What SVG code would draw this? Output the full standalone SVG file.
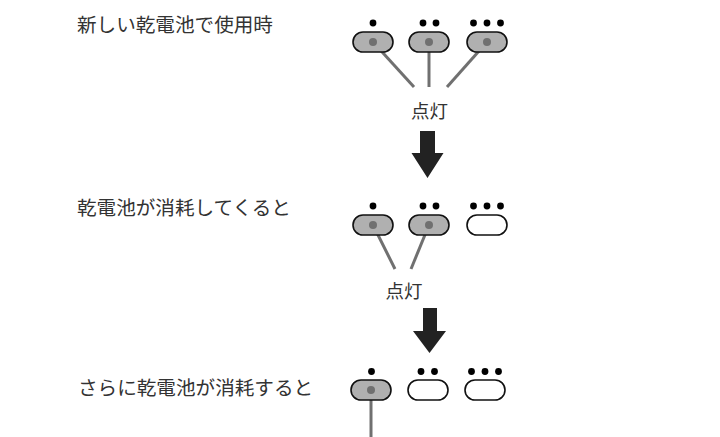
<svg xmlns="http://www.w3.org/2000/svg" width="720" height="437" viewBox="0 0 720 437">
<style>
text{font-family:"Noto Sans CJK JP","Noto Sans",sans-serif;fill:#333;}
.lbl{font-size:19.6px;}
.on{fill:#b0b0b0;stroke:#111;stroke-width:1.6;}
.off{fill:#fff;stroke:#111;stroke-width:1.6;}
.dot{fill:#000;}
.cd{fill:#707070;}
.ln{stroke:#707070;stroke-width:3;fill:none;}
.arr{fill:#222;}
</style>
<rect width="720" height="437" fill="#fff"/>
<g id="label1"><text class="lbl" x="77" y="32">新しい乾電池で使用時</text></g>
<g id="label2"><text class="lbl" x="77" y="215">乾電池が消耗してくると</text></g>
<g id="label3"><text class="lbl" x="78" y="395">さらに乾電池が消耗すると</text></g>

<g id="connectors">
<line class="ln" x1="373" y1="42" x2="414" y2="87"/>
<line class="ln" x1="429" y1="42" x2="429" y2="87"/>
<line class="ln" x1="487" y1="42" x2="447" y2="87"/>
<line class="ln" x1="373" y1="225" x2="395" y2="269"/>
<line class="ln" x1="429" y1="225" x2="411" y2="269"/>
<line class="ln" x1="371" y1="390" x2="371" y2="437"/>
</g>

<g id="row1-led1"><rect class="on" x="353" y="32" width="40" height="20" rx="10"/><circle class="dot" cx="373" cy="23" r="3.4"/><circle class="cd" cx="373" cy="42" r="4"/></g>
<g id="row1-led2"><rect class="on" x="409" y="32" width="40" height="20" rx="10"/><circle class="dot" cx="423" cy="23" r="3.4"/><circle class="dot" cx="436" cy="23" r="3.4"/><circle class="cd" cx="429" cy="42" r="4"/></g>
<g id="row1-led3"><rect class="on" x="467" y="32" width="40" height="20" rx="10"/><circle class="dot" cx="473.5" cy="23" r="3.4"/><circle class="dot" cx="487" cy="23" r="3.4"/><circle class="dot" cx="500.5" cy="23" r="3.4"/><circle class="cd" cx="487" cy="42" r="4"/></g>

<g id="text-on1"><text x="429.5" y="118" font-size="18.5" text-anchor="middle">点灯</text></g>
<g id="arrow1"><polygon class="arr" points="420,131 435,131 435,153 443.5,153 427.5,178 411.5,153 420,153"/></g>

<g id="row2-led1"><rect class="on" x="353" y="215" width="40" height="20" rx="10"/><circle class="dot" cx="373" cy="206" r="3.4"/><circle class="cd" cx="373" cy="225" r="4"/></g>
<g id="row2-led2"><rect class="on" x="409" y="215" width="40" height="20" rx="10"/><circle class="dot" cx="423" cy="206" r="3.4"/><circle class="dot" cx="436" cy="206" r="3.4"/><circle class="cd" cx="429" cy="225" r="4"/></g>
<g id="row2-led3"><rect class="off" x="467" y="215" width="40" height="20" rx="10"/><circle class="dot" cx="473.5" cy="206" r="3.4"/><circle class="dot" cx="487" cy="206" r="3.4"/><circle class="dot" cx="500.5" cy="206" r="3.4"/></g>

<g id="text-on2"><text x="404" y="298" font-size="18.5" text-anchor="middle">点灯</text></g>
<g id="arrow2"><polygon class="arr" points="423,308 437,308 437,331 446,331 429.5,353 413,331 423,331"/></g>

<g id="row3-led1"><rect class="on" x="351" y="380" width="40" height="20" rx="10"/><circle class="dot" cx="371.5" cy="371.5" r="3.4"/><circle class="cd" cx="371" cy="390" r="4"/></g>
<g id="row3-led2"><rect class="off" x="408" y="380" width="40" height="20" rx="10"/><circle class="dot" cx="421" cy="371.5" r="3.4"/><circle class="dot" cx="434.5" cy="371.5" r="3.4"/></g>
<g id="row3-led3"><rect class="off" x="465" y="380" width="40" height="20" rx="10"/><circle class="dot" cx="471.5" cy="371.5" r="3.4"/><circle class="dot" cx="485" cy="371.5" r="3.4"/><circle class="dot" cx="498.5" cy="371.5" r="3.4"/></g>
</svg>
